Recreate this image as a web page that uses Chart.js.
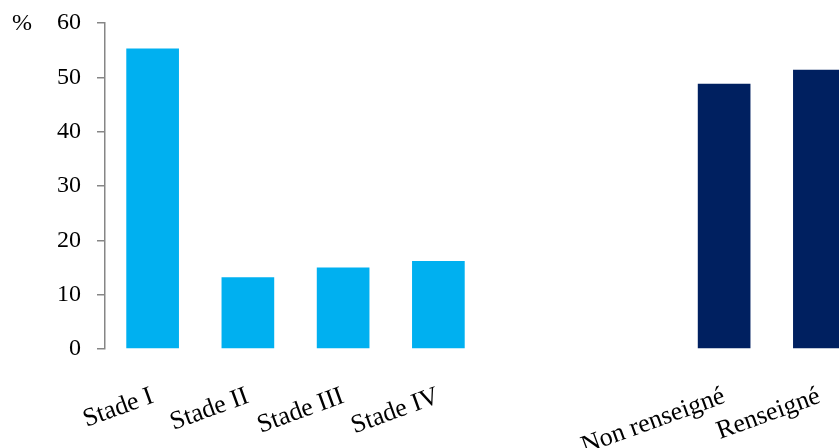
<!DOCTYPE html>
<html>
<head>
<meta charset="utf-8">
<script src="https://cdn.jsdelivr.net/npm/chart.js@4.4.1/dist/chart.umd.min.js"></script>
<style>
  html, body { margin: 0; padding: 0; background: #fff; overflow: hidden; }
  #wrap { position: relative; width: 867px; height: 448px; }
</style>
</head>
<body>
<div id="wrap"><canvas id="chart"></canvas></div>
<script>
// stades
const stadeLabels = ["Stade I", "Stade II", "Stade III", "Stade IV"];
const stadeValues = [55.3, 13.2, 15.0, 16.2];
// gap between the two groups
const gapLabels = ["", ""];
// renseigné / non renseigné
const infoLabels = ["Non renseigné", "Renseigné"];
const infoValues = [48.8, 51.4];

const yTicks = [0, 10, 20, 30, 40, 50, 60];

const stadeColor = "#00B0F0";
const infoColor = "#002060";
const axisColor = "#868686";
const fontFamily = "'Liberation Serif', 'Times New Roman', serif";

const labels = stadeLabels.concat(gapLabels, infoLabels);
const values = stadeValues.concat(gapLabels.map(() => null), infoValues);
const colors = stadeLabels.map(() => stadeColor)
  .concat(gapLabels.map(() => stadeColor), infoLabels.map(() => infoColor));

const percentLabel = {
  id: "percentLabel",
  afterDraw(chart) {
    const ctx = chart.ctx;
    ctx.save();
    ctx.font = "24px " + fontFamily;
    ctx.fillStyle = "#000";
    ctx.textAlign = "left";
    ctx.textBaseline = "middle";
    ctx.fillText("%", 12, chart.chartArea.top + 1);
    ctx.restore();
  },
};

const ctx = document.getElementById("chart").getContext("2d");

new Chart(ctx, {
  type: "bar",
  data: {
    labels: labels,
    datasets: [
      {
        data: values,
        backgroundColor: colors,
        borderWidth: 0,
        barPercentage: 0.553,
        categoryPercentage: 1.0,
      },
    ],
  },
  options: {
    responsive: true,
    maintainAspectRatio: false,
    animation: false,
    layout: {
      padding: { top: 23, right: 0, bottom: 0, left: 0 },
    },
    plugins: {
      legend: { display: false },
      tooltip: { enabled: false },
    },
    scales: {
      x: {
        grid: { display: false },
        border: { display: false },
        ticks: {
          autoSkip: false,
          minRotation: 20,
          maxRotation: 20,
          padding: 24,
          color: "#000",
          font: { size: 26, family: fontFamily },
        },
        afterFit: function (scale) {
          scale.height = 99;
          scale.paddingLeft = 0;
          scale.paddingRight = 0;
        },
      },
      y: {
        min: 0,
        max: 60,
        afterBuildTicks: function (scale) {
          scale.ticks = yTicks.map((v) => ({ value: v }));
        },
        grid: {
          display: true,
          drawOnChartArea: false,
          drawTicks: true,
          tickLength: 8,
          color: axisColor,
          lineWidth: 1.5,
        },
        border: { display: true, color: axisColor, width: 1.5 },
        ticks: {
          padding: 16,
          color: "#000",
          font: { size: 24, family: fontFamily },
        },
        afterFit: function (scale) {
          scale.width = 105;
          scale.paddingTop = 0;
          scale.paddingBottom = 0;
        },
      },
    },
  },
  plugins: [percentLabel],
});
</script>
</body>
</html>
